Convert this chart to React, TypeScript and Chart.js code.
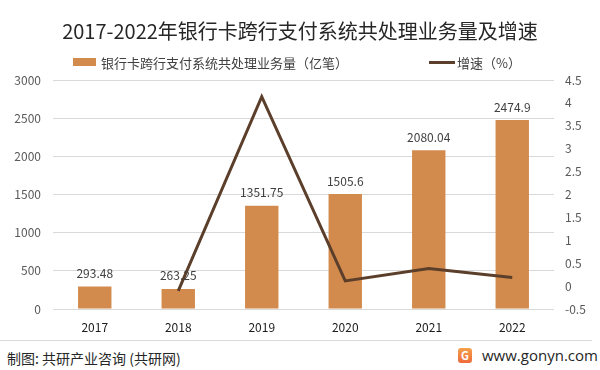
import React, { useEffect, useRef } from "react";
import { Chart, registerables } from "chart.js";

Chart.register(...registerables);

const years = ["2017", "2018", "2019", "2020", "2021", "2022"];
const volume = [293.48, 263.25, 1351.75, 1505.6, 2080.04, 2474.9];
const volumeLabels = ["293.48", "263.25", "1351.75", "1505.6", "2080.04", "2474.9"];
const growth = [null, -0.103, 4.135, 0.114, 0.382, 0.19];

const titleText = "2017-2022年银行卡跨行支付系统共处理业务量及增速";
const barLegend = "银行卡跨行支付系统共处理业务量（亿笔）";
const lineLegend = "增速（%）";
const sourceText = "制图: 共研产业咨询 (共研网)";
const siteText = "www.gonyn.com";

const BAR_COLOR = "#D38B4D";
const LINE_COLOR = "#5B3F2B";
const FONT = "'Noto Sans CJK SC', 'Noto Sans', sans-serif";

const barLabelPlugin = {
  id: "barLabels",
  afterDatasetsDraw(chart: any) {
    const meta = chart.getDatasetMeta(1);
    const ctx = chart.ctx;
    ctx.save();
    ctx.font = `12px ${FONT}`;
    ctx.fillStyle = "#404040";
    ctx.textAlign = "center";
    ctx.textBaseline = "middle";
    meta.data.forEach((el: any, i: number) => {
      ctx.fillText(volumeLabels[i], el.x, el.y - 13);
    });
    ctx.restore();
  },
};

export default function App() {
  const ref = useRef<HTMLCanvasElement | null>(null);

  useEffect(() => {
    document.body.style.margin = "0";
    const canvas = ref.current;
    if (!canvas) return;
    const chart = new Chart(canvas, {
      type: "bar",
      data: {
        labels: years,
        datasets: [
          {
            type: "line",
            label: lineLegend,
            data: growth as any,
            yAxisID: "y1",
            borderColor: LINE_COLOR,
            backgroundColor: LINE_COLOR,
            borderWidth: 3,
            pointRadius: 0,
            tension: 0,
            order: 0,
          } as any,
          {
            type: "bar",
            label: barLegend,
            data: volume,
            yAxisID: "y",
            backgroundColor: BAR_COLOR,
            categoryPercentage: 1,
            barPercentage: 0.4,
            order: 1,
          },
        ],
      },
      options: {
        animation: false,
        responsive: false,
        maintainAspectRatio: false,
        layout: { padding: { top: 80, left: 0, right: 0, bottom: 0 } },
        plugins: {
          legend: { display: false },
          title: { display: false },
          tooltip: { enabled: false },
        },
        scales: {
          x: {
            grid: { display: false, drawTicks: false },
            border: { display: false },
            ticks: {
              color: "#1A1A1A",
              font: { size: 12, family: FONT },
              padding: 11,
              maxRotation: 0,
            },
            afterFit(s: any) {
              s.height = 31;
            },
          },
          y: {
            position: "left",
            min: 0,
            max: 3000,
            ticks: {
              stepSize: 500,
              color: "#595959",
              font: { size: 12, family: FONT },
              padding: 12,
              callback: (v: any) => String(v),
            },
            grid: { color: "#D9D9D9", lineWidth: 1, drawTicks: false },
            border: { display: false },
            afterFit(s: any) {
              s.width = 53;
            },
          },
          y1: {
            position: "right",
            min: -0.5,
            max: 4.5,
            ticks: {
              stepSize: 0.5,
              color: "#595959",
              font: { size: 12, family: FONT },
              padding: 11,
              callback: (v: any) => String(Math.round(v * 10) / 10),
            },
            grid: { drawOnChartArea: false, drawTicks: false },
            border: { display: false },
            afterFit(s: any) {
              s.width = 46;
            },
          },
        },
      },
      plugins: [barLabelPlugin],
    });
    return () => chart.destroy();
  }, []);

  return (
    <div
      style={{
        position: "relative",
        width: 600,
        height: 370,
        background: "#ffffff",
        fontFamily: FONT,
        overflow: "hidden",
      }}
    >
      <canvas
        ref={ref}
        width={600}
        height={340}
        style={{ position: "absolute", left: 0, top: 0, width: 600, height: 340 }}
      />
      <div
        style={{
          position: "absolute",
          top: 17,
          left: 0,
          width: 600,
          textAlign: "center",
          fontSize: 20,
          lineHeight: "28px",
          color: "#262626",
        }}
      >
        {titleText}
      </div>
      <div
        style={{
          position: "absolute",
          top: 53,
          left: 73,
          height: 18,
          display: "flex",
          alignItems: "center",
          fontSize: 13,
          color: "#404040",
        }}
      >
        <span style={{ display: "inline-block", width: 23, height: 8, background: BAR_COLOR, marginRight: 5 }} />
        <span>{barLegend}</span>
      </div>
      <div
        style={{
          position: "absolute",
          top: 53,
          left: 429,
          height: 18,
          display: "flex",
          alignItems: "center",
          fontSize: 13,
          color: "#404040",
        }}
      >
        <span style={{ display: "inline-block", width: 26, height: 3, background: LINE_COLOR, marginRight: 2 }} />
        <span>{lineLegend}</span>
      </div>
      <div
        style={{
          position: "absolute",
          top: 340,
          left: 0,
          width: 592,
          height: 1,
          background: "#D9D9D9",
        }}
      />
      <div
        style={{
          position: "absolute",
          top: 348,
          left: 7,
          fontSize: 14,
          lineHeight: "20px",
          color: "#262626",
        }}
      >
        {sourceText}
      </div>
      <div
        style={{
          position: "absolute",
          top: 348,
          left: 458,
          width: 14,
          height: 15,
          borderRadius: 3,
          background: "linear-gradient(180deg, #F5A04A 0%, #EE6A3A 100%)",
          color: "#ffffff",
          fontSize: 11,
          fontWeight: 700,
          lineHeight: "15px",
          textAlign: "center",
        }}
      >
        G
      </div>
      <div
        style={{
          position: "absolute",
          top: 345,
          left: 482,
          fontSize: 15,
          lineHeight: "20px",
          color: "#262626",
          fontFamily: "'Open Sans', 'Noto Sans', sans-serif",
        }}
      >
        {siteText}
      </div>
    </div>
  );
}
